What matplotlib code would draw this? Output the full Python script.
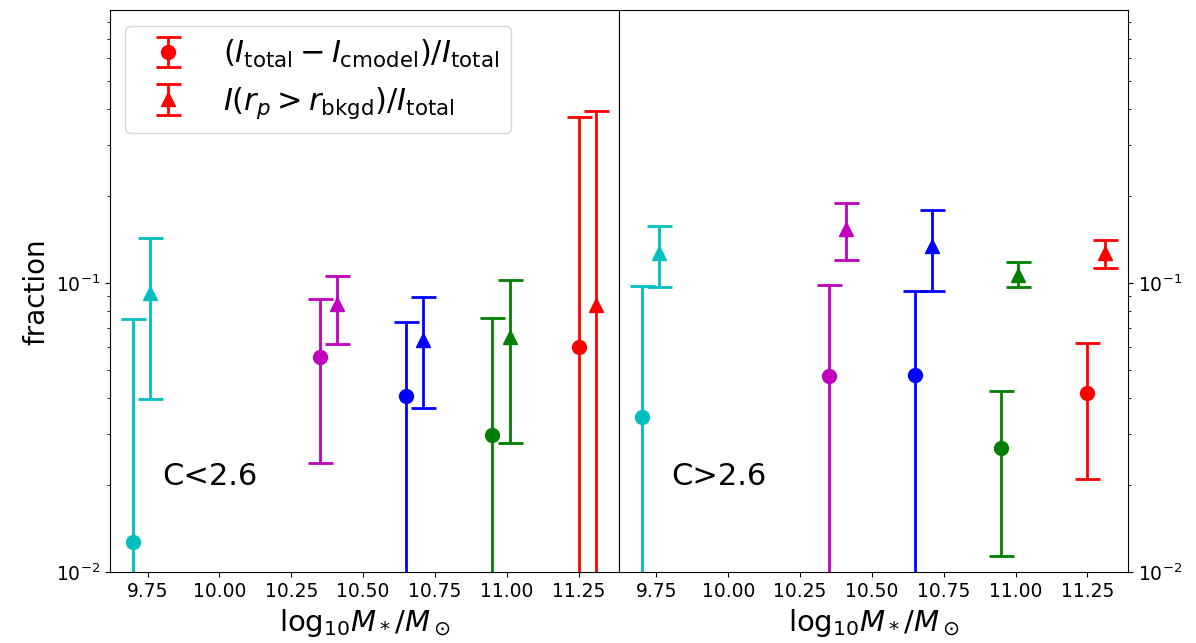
import matplotlib
matplotlib.use("Agg")
import matplotlib.pyplot as plt
import numpy as np

colors = ["c", "m", "b", "g", "r"]
mass_circ = [9.70, 10.35, 10.65, 10.95, 11.25]
mass_tri = [9.76, 10.41, 10.71, 11.01, 11.31]

# C<2.6 : value, lower bound, upper bound (0 = runs off the bottom)
lo_circ = [0.0127, 0.0555, 0.0407, 0.0298, 0.0600]
lo_circ_lo = [0.0, 0.0238, 0.0, 0.0, 0.0]
lo_circ_hi = [0.0750, 0.0881, 0.0733, 0.0757, 0.375]
lo_tri = [0.0923, 0.0846, 0.0635, 0.0650, 0.0839]
lo_tri_lo = [0.0397, 0.0615, 0.0369, 0.0279, 0.0]
lo_tri_hi = [0.143, 0.1057, 0.0895, 0.1024, 0.394]

# C>2.6
hi_circ = [0.0344, 0.0477, 0.0480, 0.0269, 0.0416]
hi_circ_lo = [0.0, 0.0, 0.0, 0.0114, 0.0210]
hi_circ_hi = [0.0976, 0.0985, 0.0938, 0.0423, 0.0620]
hi_tri = [0.127, 0.154, 0.135, 0.1066, 0.127]
hi_tri_lo = [0.0969, 0.120, 0.0938, 0.0969, 0.1127]
hi_tri_hi = [0.1575, 0.189, 0.179, 0.118, 0.141]

xlabel = r"$\mathrm{log}_{10}M_*/M_\odot$"
labels = [r"$(I_{\rm total}-I_{\rm cmodel})/I_{\rm total}$",
          r"$I(r_p>r_{\rm bkgd})/I_{\rm total}$"]

fig, axes = plt.subplots(1, 2, sharey=True, figsize=(11.96, 6.43), dpi=100)
fig.subplots_adjust(left=0.092, right=0.943, bottom=0.110, top=0.984, wspace=0)

sets = [(lo_circ, lo_circ_lo, lo_circ_hi, lo_tri, lo_tri_lo, lo_tri_hi, "C<2.6"),
        (hi_circ, hi_circ_lo, hi_circ_hi, hi_tri, hi_tri_lo, hi_tri_hi, "C>2.6")]

kw = dict(ms=10, elinewidth=2, capsize=9, capthick=2, linestyle="none")
handles = []
for ax, (c, clo, chi, t, tlo, thi, txt) in zip(axes, sets):
    ax.set_yscale("log", nonpositive="clip")
    for i in range(len(colors)):
        e1 = ax.errorbar(mass_circ[i], c[i], yerr=[[c[i] - clo[i]], [chi[i] - c[i]]],
                         fmt="o", color=colors[i], **kw)
        e2 = ax.errorbar(mass_tri[i], t[i], yerr=[[t[i] - tlo[i]], [thi[i] - t[i]]],
                         fmt="^", color=colors[i], **kw)
    if not handles:
        handles = [e1, e2]
    ax.text(9.8, 0.02, txt, fontsize=22)
    ax.set_xlabel(xlabel, fontsize=21)
    ax.set_xticks([9.75, 10.0, 10.25, 10.5, 10.75, 11.0, 11.25])
    ax.tick_params(labelsize=13.5)

axes[0].set_ylim(0.01, 0.88)
axes[0].set_ylabel("fraction", fontsize=20)
axes[1].yaxis.tick_right()
axes[1].yaxis.set_ticks_position("right")

axes[0].legend(handles, labels, loc="upper left", fontsize=22)

plt.savefig("out.png")
